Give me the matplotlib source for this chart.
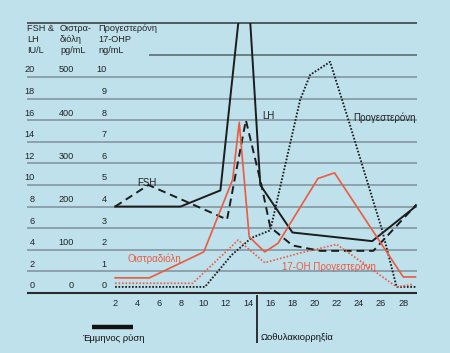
import numpy as np
import matplotlib
matplotlib.use("Agg")
import matplotlib.pyplot as plt
from matplotlib.patches import Rectangle

plt.rcParams['font.family'] = ['Liberation Sans', 'DejaVu Sans']

# day of cycle
days_lh = [2, 7.9, 11.5, 13.8, 15.1, 18.0, 25.2, 29.1]
lh = [8, 8, 9.5, 31.6, 10, 5.6, 4.8, 8]          # IU/L

days_fsh = [2, 5, 12.1, 13.8, 15.2, 16, 18, 20.5, 25.3, 29.2]
fsh = [8, 10, 6.8, 16, 10, 6.1, 4.4, 3.9, 3.9, 8.2]   # IU/L

days_e2 = [2, 5.1, 10, 12.6, 13.2, 14.1, 15.5, 16.7, 20.3, 21.8, 28, 29.1]
estradiol = [35, 35, 95, 262, 395, 130, 95, 115, 265, 278, 37, 37]   # pg/mL

days_p = [2, 10.1, 12.5, 14.3, 16, 18.7, 19.6, 21.4, 23, 26.1, 27.4, 29.1]
progesterone = [0.28, 0.28, 1.75, 2.55, 2.9, 8.95, 10.1, 10.7, 8.1, 2.9, 0.28, 0.28]  # ng/mL

days_ohp = [2, 9.0, 13.1, 15.5, 18.7, 22, 27.4, 28.9]
ohp17 = [0.45, 0.45, 2.45, 1.4, 1.85, 2.25, 0.28, 0.4]   # ng/mL

grid_vals = [0, 2, 4, 6, 8, 10, 12, 14, 16, 18, 20]
col_lh = ['0', '2', '4', '6', '8', '10', '12', '14', '16', '18', '20']
col_e2 = ['0', '', '100', '', '200', '', '300', '', '400', '', '500']
col_p = ['0', '1', '2', '3', '4', '5', '6', '7', '8', '9', '10']
xticks = [2, 4, 6, 8, 10, 12, 14, 16, 18, 20, 22, 24, 26, 28]

# scale factors onto the IU/L axis
E2_SCALE = 20 / 500.0
P_SCALE = 20 / 10.0

bg = '#bfe1ec'
red = '#ec5a3f'
blk = '#1c1c1c'
txtc = '#222222'

fig = plt.figure(figsize=(4.5, 3.53), dpi=100, facecolor=bg)
ax = fig.add_axes([0, 0, 1, 1])
ax.set_facecolor(bg)
ax.set_xlim(-8.39, 32.22)
ax.set_ylim(-5.56, 27.13)
ax.axis('off')

x0, x1 = -5.96, 29.24
# grid lines
for v in grid_vals[1:]:
    ax.hlines(v, x0, x1, color='#8496a0', lw=1.2, zorder=1)
ax.hlines(22, 5.1, x1, color='#5f6e75', lw=1.2, zorder=1)
ax.hlines(25, x0, x1, color='#4d5a60', lw=1.4, zorder=1)
ax.hlines(0, x0, x1, color='#2a2a2a', lw=1.5, zorder=1)

clip = Rectangle((-10, -10), 50, 35, transform=ax.transData)

def draw(xs, ys, **kw):
    ln, = ax.plot(xs, ys, zorder=3, **kw)
    ln.set_clip_path(clip)
    return ln

draw(days_lh, lh, color=blk, lw=1.4)
draw(days_fsh, fsh, color=blk, lw=1.4, ls=(0, (4, 2.5)))
draw(days_p, np.array(progesterone) * P_SCALE, color=blk, lw=1.35, ls=(0, (0.9, 0.9)))
draw(days_e2, np.array(estradiol) * E2_SCALE, color=red, lw=1.2)
draw(days_ohp, np.array(ohp17) * P_SCALE, color=red, lw=1.25, ls=(0, (0.9, 1.1)))

fs = 6.6
# left-hand columns of values
for v, a, b, c in zip(grid_vals, col_lh, col_e2, col_p):
    yl = v + 0.65
    ax.text(-5.24, yl, a, ha='right', va='center', fontsize=fs, color=txtc)
    ax.text(-1.72, yl, b, ha='right', va='center', fontsize=fs, color=txtc)
    ax.text(1.26, yl, c, ha='right', va='center', fontsize=fs, color=txtc)

# column headers
hdr_y = [(293 - 29) / 10.8, (293 - 40) / 10.8, (293 - 51) / 10.8]
for txt, y in zip(['FSH &', 'LH', 'IU/L'], hdr_y):
    ax.text(x0, y, txt, ha='left', va='center', fontsize=fs, color=txtc)
for txt, y in zip(['Οιστρα-', 'διόλη', 'pg/mL'], hdr_y):
    ax.text(-2.98, y, txt, ha='left', va='center', fontsize=fs, color=txtc)
for txt, y in zip(['Προγεστερόνη', '17-OHP', 'ng/mL'], hdr_y):
    ax.text(0.45, y, txt, ha='left', va='center', fontsize=fs, color=txtc)

# x tick labels
for d in xticks:
    ax.text(d, -0.93, str(d), ha='center', va='center', fontsize=fs, color=txtc)

# series labels
fl = 7
ax.text(4.0, 10.2, 'FSH', fontsize=fl, color=txtc, va='center')
ax.text(15.3, 16.4, 'LH', fontsize=fl, color=txtc, va='center')
ax.text(23.5, 16.2, 'Προγεστερόνη', fontsize=fl, color=txtc, va='center')
ax.text(3.1, 3.2, 'Οιστραδιόλη', fontsize=fl, color=red, va='center')
ax.text(17.1, 2.4, '17-OH Προγεστερόνη', fontsize=fl, color=red, va='center')

# menstruation bar and ovulation marker
ax.hlines(-3.15, -0.1, 3.6, color='#111111', lw=3.2)
ax.text(1.8, -4.2, 'Έμμηνος ρύση', ha='center', va='center', fontsize=6.8, color='#111111')
ax.vlines(14.8, -0.2, -4.6, color='#222222', lw=1.3)
ax.text(15.1, -4.12, 'Ωοθυλακιορρηξία', ha='left', va='center', fontsize=6.8, color='#111111')

fig.savefig('out.png', dpi=100, facecolor=bg)
